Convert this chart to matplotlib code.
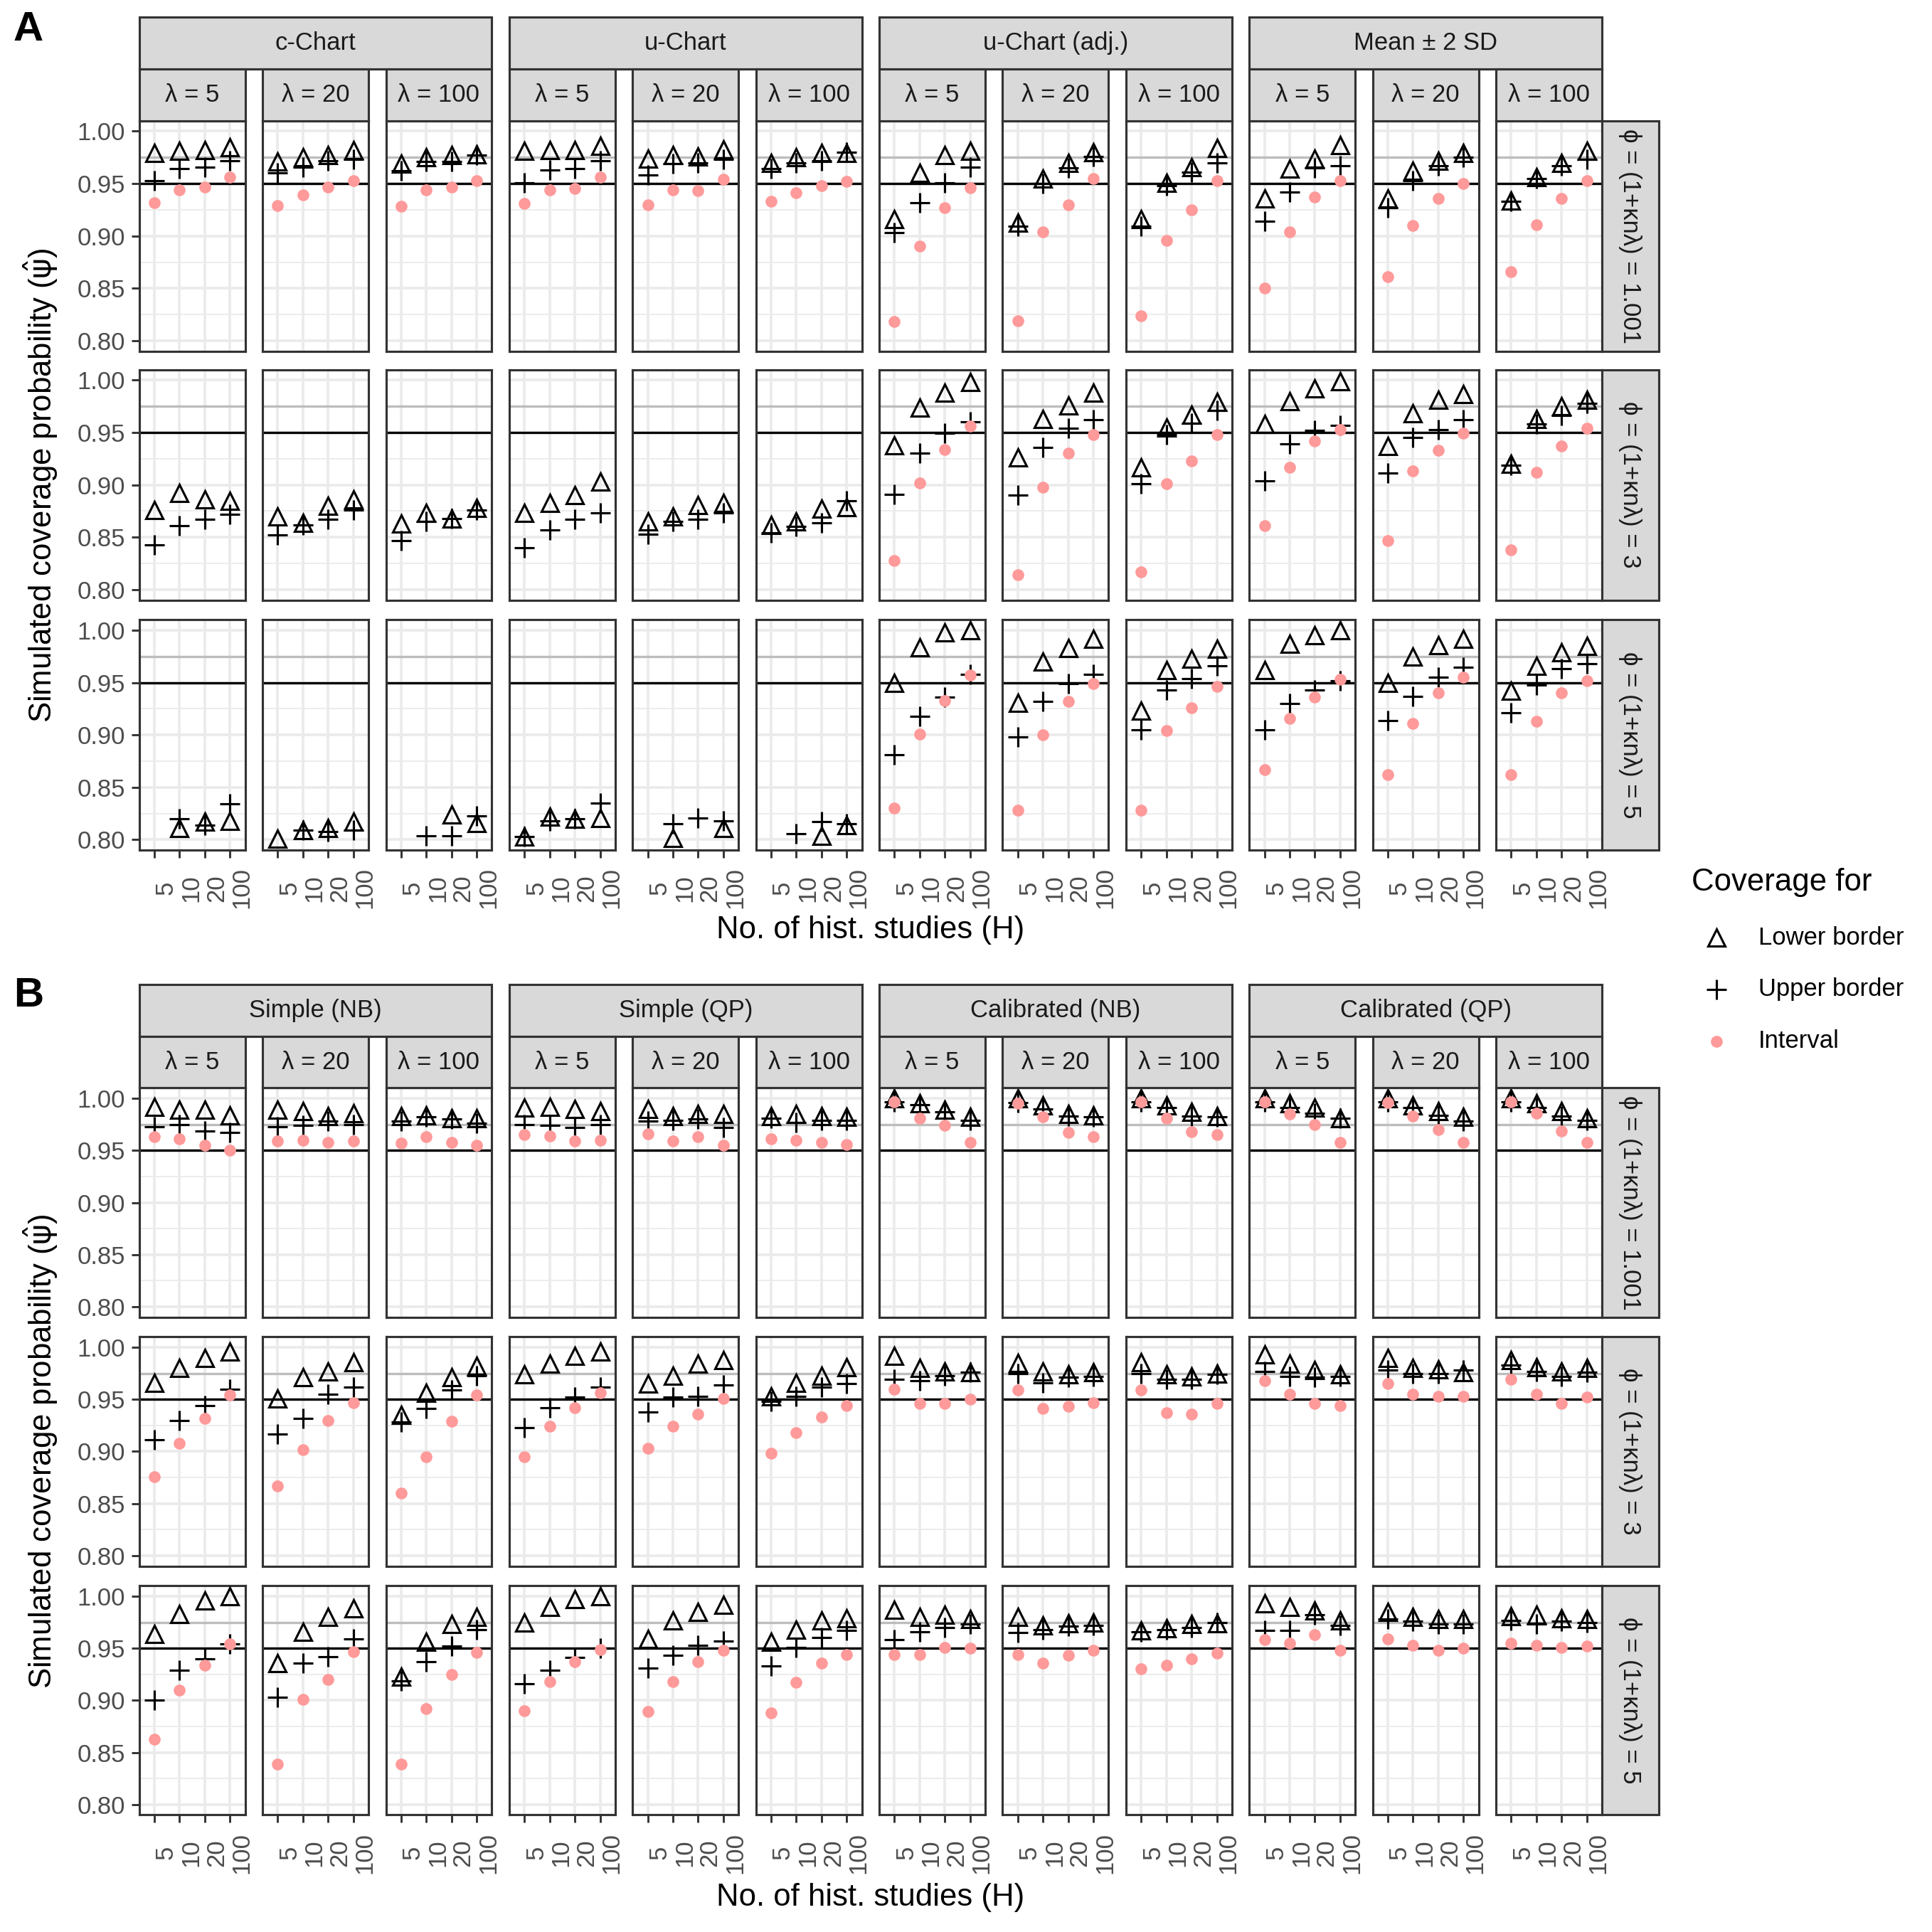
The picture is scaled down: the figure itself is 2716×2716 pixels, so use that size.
import numpy as np
import matplotlib as mpl
mpl.use('agg')
import matplotlib.pyplot as plt
from matplotlib.patches import Rectangle
from matplotlib.lines import Line2D

plt.rcParams['font.family'] = ['Liberation Sans', 'DejaVu Sans']
plt.rcParams['mathtext.fontset'] = 'dejavusans'

nan = np.nan

# facet labels
H_labels = ['5', '10', '20', '100']
lambda_labels = ['λ = 5', 'λ = 20', 'λ = 100']
phi_labels = ['ϕ = (1+κnλ) = 1.001', 'ϕ = (1+κnλ) = 3', 'ϕ = (1+κnλ) = 5']
methods_a = ['c-Chart', 'u-Chart', 'u-Chart (adj.)', 'Mean ± 2 SD']
methods_b = ['Simple (NB)', 'Simple (QP)', 'Calibrated (NB)', 'Calibrated (QP)']
series_labels = ['Lower border', 'Upper border', 'Interval']

# values: [phi][lambda] -> H = 5, 10, 20, 100  (nan = below 0.80, not shown)
# ---- panel A ----
cchart_lower = [[[0.979, 0.981, 0.982, 0.985], [0.971, 0.975, 0.977, 0.982], [0.969, 0.975, 0.977, 0.978]],
                [[0.876, 0.892, 0.886, 0.885], [0.870, 0.864, 0.880, 0.886], [0.863, 0.873, 0.868, 0.878]],
                [[nan, 0.811, 0.817, 0.818], [0.801, 0.809, 0.811, 0.817], [nan, nan, 0.824, 0.816]]]
cchart_upper = [[[0.953, 0.964, 0.966, 0.972], [0.960, 0.966, 0.972, 0.973], [0.962, 0.971, 0.971, 0.977]],
                [[0.843, 0.861, 0.867, 0.872], [0.852, 0.862, 0.867, 0.876], [0.847, 0.865, 0.868, 0.876]],
                [[nan, 0.820, 0.814, 0.834], [nan, 0.809, 0.808, 0.809], [nan, 0.804, 0.804, 0.823]]]
cchart_interval = [[[0.932, 0.944, 0.947, 0.956], [0.929, 0.939, 0.947, 0.953], [0.928, 0.944, 0.947, 0.953]],
                   [[nan] * 4, [nan] * 4, [nan] * 4],
                   [[nan] * 4, [nan] * 4, [nan] * 4]]

uchart_lower = [[[0.981, 0.982, 0.982, 0.986], [0.974, 0.977, 0.976, 0.983], [0.970, 0.975, 0.979, 0.979]],
                [[0.873, 0.883, 0.890, 0.903], [0.865, 0.870, 0.881, 0.883], [0.862, 0.865, 0.877, 0.879]],
                [[0.803, 0.822, 0.820, 0.821], [nan, 0.802, nan, 0.811], [nan, nan, 0.804, 0.814]]]
uchart_upper = [[[0.951, 0.963, 0.964, 0.972], [0.958, 0.969, 0.970, 0.973], [0.964, 0.970, 0.972, 0.980]],
                [[0.840, 0.857, 0.867, 0.873], [0.853, 0.865, 0.867, 0.873], [0.854, 0.860, 0.864, 0.885]],
                [[0.803, 0.818, 0.820, 0.835], [nan, 0.815, 0.821, 0.818], [nan, 0.806, 0.817, 0.815]]]
uchart_interval = [[[0.931, 0.944, 0.945, 0.956], [0.930, 0.944, 0.943, 0.954], [0.933, 0.941, 0.948, 0.952]],
                   [[nan] * 4, [nan] * 4, [nan] * 4],
                   [[nan] * 4, [nan] * 4, [nan] * 4]]

uadj_lower = [[[0.916, 0.960, 0.977, 0.981], [0.913, 0.955, 0.970, 0.980], [0.916, 0.951, 0.966, 0.984]],
              [[0.938, 0.974, 0.988, 0.998], [0.926, 0.963, 0.976, 0.988], [0.917, 0.955, 0.967, 0.979]],
              [[0.950, 0.984, 0.998, 1.000], [0.931, 0.970, 0.983, 0.992], [0.923, 0.962, 0.973, 0.982]]]
uadj_upper = [[[0.903, 0.932, 0.951, 0.966], [0.909, 0.950, 0.965, 0.976], [0.909, 0.948, 0.961, 0.970]],
              [[0.891, 0.930, 0.949, 0.960], [0.890, 0.936, 0.954, 0.962], [0.901, 0.948, 0.959, 0.971]],
              [[0.881, 0.918, 0.936, 0.958], [0.898, 0.932, 0.949, 0.958], [0.905, 0.943, 0.954, 0.966]]]
uadj_interval = [[[0.818, 0.890, 0.927, 0.946], [0.819, 0.904, 0.930, 0.955], [0.824, 0.896, 0.925, 0.953]],
                 [[0.828, 0.902, 0.934, 0.956], [0.814, 0.898, 0.930, 0.948], [0.817, 0.901, 0.923, 0.948]],
                 [[0.830, 0.901, 0.933, 0.957], [0.828, 0.900, 0.932, 0.949], [0.828, 0.904, 0.926, 0.946]]]

meansd_lower = [[[0.936, 0.964, 0.974, 0.987], [0.936, 0.962, 0.972, 0.979], [0.934, 0.956, 0.970, 0.981]],
                [[0.958, 0.980, 0.992, 0.999], [0.937, 0.968, 0.981, 0.987], [0.920, 0.963, 0.975, 0.981]],
                [[0.962, 0.987, 0.995, 1.000], [0.950, 0.975, 0.986, 0.992], [0.942, 0.966, 0.979, 0.985]]]
meansd_upper = [[[0.914, 0.942, 0.965, 0.967], [0.927, 0.953, 0.967, 0.975], [0.933, 0.955, 0.967, 0.973]],
                [[0.904, 0.939, 0.952, 0.957], [0.911, 0.945, 0.953, 0.962], [0.919, 0.958, 0.966, 0.978]],
                [[0.905, 0.930, 0.943, 0.952], [0.914, 0.937, 0.955, 0.965], [0.921, 0.948, 0.963, 0.968]]]
meansd_interval = [[[0.850, 0.904, 0.937, 0.953], [0.861, 0.910, 0.936, 0.950], [0.866, 0.911, 0.936, 0.953]],
                   [[0.861, 0.917, 0.942, 0.953], [0.847, 0.913, 0.933, 0.949], [0.838, 0.912, 0.937, 0.954]],
                   [[0.867, 0.916, 0.936, 0.953], [0.862, 0.911, 0.940, 0.955], [0.862, 0.913, 0.940, 0.952]]]

# ---- panel B ----
simplenb_lower = [[[0.992, 0.989, 0.989, 0.984], [0.989, 0.988, 0.983, 0.986], [0.983, 0.984, 0.981, 0.981]],
                  [[0.966, 0.980, 0.990, 0.996], [0.951, 0.971, 0.977, 0.986], [0.935, 0.956, 0.971, 0.982]],
                  [[0.964, 0.983, 0.996, 1.000], [0.936, 0.966, 0.980, 0.988], [0.923, 0.956, 0.973, 0.980]]]
simplenb_upper = [[[0.973, 0.975, 0.969, 0.967], [0.973, 0.974, 0.978, 0.975], [0.978, 0.982, 0.980, 0.976]],
                  [[0.911, 0.930, 0.944, 0.960], [0.917, 0.932, 0.955, 0.962], [0.928, 0.941, 0.959, 0.973]],
                  [[0.900, 0.929, 0.940, 0.954], [0.903, 0.936, 0.942, 0.959], [0.919, 0.937, 0.952, 0.968]]]
simplenb_interval = [[[0.963, 0.961, 0.955, 0.950], [0.959, 0.960, 0.958, 0.959], [0.957, 0.963, 0.958, 0.955]],
                     [[0.876, 0.908, 0.932, 0.954], [0.867, 0.902, 0.930, 0.947], [0.860, 0.895, 0.929, 0.954]],
                     [[0.863, 0.910, 0.934, 0.954], [0.839, 0.901, 0.920, 0.947], [0.839, 0.892, 0.925, 0.946]]]

simpleqp_lower = [[[0.991, 0.992, 0.990, 0.988], [0.990, 0.983, 0.985, 0.985], [0.983, 0.985, 0.983, 0.982]],
                  [[0.974, 0.984, 0.992, 0.996], [0.965, 0.973, 0.984, 0.988], [0.953, 0.966, 0.973, 0.981]],
                  [[0.975, 0.990, 0.997, 1.000], [0.959, 0.977, 0.985, 0.992], [0.956, 0.968, 0.977, 0.979]]]
simpleqp_upper = [[[0.975, 0.974, 0.972, 0.975], [0.978, 0.979, 0.980, 0.972], [0.981, 0.977, 0.979, 0.979]],
                  [[0.923, 0.942, 0.952, 0.962], [0.938, 0.952, 0.953, 0.964], [0.948, 0.953, 0.962, 0.965]],
                  [[0.916, 0.929, 0.941, 0.950], [0.931, 0.943, 0.953, 0.957], [0.933, 0.951, 0.960, 0.967]]]
simpleqp_interval = [[[0.965, 0.964, 0.959, 0.960], [0.966, 0.959, 0.963, 0.955], [0.961, 0.960, 0.958, 0.956]],
                     [[0.895, 0.924, 0.942, 0.956], [0.903, 0.924, 0.936, 0.951], [0.898, 0.918, 0.933, 0.944]],
                     [[0.890, 0.918, 0.937, 0.949], [0.889, 0.918, 0.937, 0.948], [0.888, 0.917, 0.936, 0.944]]]

calnb_lower = [[[1.000, 0.995, 0.989, 0.982], [1.000, 0.993, 0.985, 0.984], [1.000, 0.993, 0.987, 0.983]],
               [[0.992, 0.980, 0.977, 0.976], [0.985, 0.977, 0.974, 0.976], [0.986, 0.974, 0.972, 0.975]],
               [[0.987, 0.980, 0.982, 0.978], [0.980, 0.972, 0.974, 0.975], [0.967, 0.969, 0.973, 0.974]]]
calnb_upper = [[[0.997, 0.994, 0.987, 0.979], [0.996, 0.990, 0.983, 0.982], [0.997, 0.991, 0.983, 0.982]],
               [[0.969, 0.968, 0.973, 0.976], [0.975, 0.966, 0.971, 0.972], [0.975, 0.969, 0.969, 0.974]],
               [[0.958, 0.966, 0.970, 0.973], [0.965, 0.968, 0.971, 0.972], [0.966, 0.968, 0.970, 0.975]]]
calnb_interval = [[[0.997, 0.981, 0.974, 0.958], [0.995, 0.982, 0.967, 0.963], [0.997, 0.981, 0.968, 0.965]],
                  [[0.960, 0.946, 0.946, 0.950], [0.959, 0.941, 0.943, 0.947], [0.959, 0.937, 0.936, 0.946]],
                  [[0.944, 0.944, 0.951, 0.950], [0.944, 0.936, 0.943, 0.948], [0.930, 0.934, 0.940, 0.945]]]

calqp_lower = [[[1.000, 0.995, 0.991, 0.981], [1.000, 0.993, 0.988, 0.982], [1.000, 0.995, 0.988, 0.981]],
               [[0.993, 0.984, 0.978, 0.974], [0.990, 0.980, 0.979, 0.976], [0.988, 0.981, 0.977, 0.980]],
               [[0.993, 0.990, 0.986, 0.977], [0.985, 0.980, 0.978, 0.978], [0.981, 0.982, 0.979, 0.978]]]
calqp_upper = [[[0.997, 0.991, 0.986, 0.981], [0.997, 0.991, 0.984, 0.978], [0.997, 0.991, 0.983, 0.979]],
               [[0.977, 0.972, 0.971, 0.972], [0.978, 0.975, 0.975, 0.978], [0.983, 0.977, 0.972, 0.976]],
               [[0.967, 0.967, 0.982, 0.972], [0.978, 0.976, 0.973, 0.973], [0.977, 0.973, 0.976, 0.975]]]
calqp_interval = [[[0.997, 0.985, 0.975, 0.958], [0.996, 0.983, 0.970, 0.958], [0.997, 0.986, 0.969, 0.958]],
                  [[0.968, 0.955, 0.946, 0.944], [0.965, 0.955, 0.953, 0.953], [0.969, 0.955, 0.946, 0.952]],
                  [[0.958, 0.955, 0.963, 0.948], [0.959, 0.953, 0.948, 0.950], [0.955, 0.953, 0.951, 0.952]]]


# layout in reference pixels (1568 px grid), converted to figure fractions
S = 1568.0
def fx(px):
    return px / S
def fy(py):
    return 1 - py / S

COL_L, COL_W, COL_P = 113, 86, 100.1
STRIP_BG = '#d9d9d9'
EDGE = '#333333'
PINK = '#ff9a9a'

fig = plt.figure(figsize=(2716 / 300, 2716 / 300), dpi=300)
fig.patch.set_facecolor('white')


def strip(x0, y0, x1, y1, label, rot=0):
    fig.add_artist(Rectangle((fx(x0), fy(y1)), fx(x1) - fx(x0), fy(y0) - fy(y1),
                             transform=fig.transFigure, facecolor=STRIP_BG,
                             edgecolor=EDGE, linewidth=0.75))
    fig.text(fx((x0 + x1) / 2), fy((y0 + y1) / 2), label, rotation=rot,
             ha='center', va='center', fontsize=8.3, color='#1a1a1a')


def facet(ax, lower, upper, interval, first_col, last_row):
    x = np.arange(1, 5)
    ax.set_xlim(0.4, 4.6)
    ax.set_ylim(0.79, 1.01)
    ax.set_xticks(x)
    ax.set_yticks([0.80, 0.85, 0.90, 0.95, 1.00])
    ax.set_yticks([0.825, 0.875, 0.925, 0.975], minor=True)
    ax.grid(True, which='major', color='#ebebeb', linewidth=0.9)
    ax.grid(True, which='minor', axis='y', color='#ebebeb', linewidth=0.45)
    ax.set_axisbelow(True)
    ax.axhline(0.975, color='#bdbdbd', linewidth=0.8, zorder=1.5)
    ax.axhline(0.95, color='black', linewidth=0.8, zorder=1.5)
    ax.plot(x, lower, linestyle='none', marker='^', markersize=5.6,
            markerfacecolor='none', markeredgecolor='black', markeredgewidth=0.75, zorder=3)
    ax.plot(x, upper, linestyle='none', marker='+', markersize=6.5,
            color='black', markeredgewidth=0.75, zorder=3)
    ax.plot(x, interval, linestyle='none', marker='o', markersize=4,
            color=PINK, markeredgewidth=0, zorder=4)
    for s in ax.spines.values():
        s.set_color(EDGE)
        s.set_linewidth(0.75)
    ax.tick_params(which='minor', length=0)
    ax.tick_params(axis='y', which='major', length=2.75 if first_col else 0,
                   width=0.7, color=EDGE, labelsize=8.3, labelcolor='#4d4d4d',
                   labelleft=first_col, pad=2)
    ax.tick_params(axis='x', which='major', length=2.75 if last_row else 0,
                   width=0.7, color=EDGE, labelbottom=last_row, pad=10)
    if first_col:
        ax.set_yticklabels(['0.80', '0.85', '0.90', '0.95', '1.00'])
    if last_row:
        ax.set_xticklabels(H_labels, rotation=90, ha='left', va='center',
                           fontsize=8.3, color='#4d4d4d')


panels = [
    dict(tag='A', methods=methods_a, strip_top=14, row_tops=[98, 300, 503], row_h=187,
         xlab_y=755, tag_y=24,
         lower=[cchart_lower, uchart_lower, uadj_lower, meansd_lower],
         upper=[cchart_upper, uchart_upper, uadj_upper, meansd_upper],
         interval=[cchart_interval, uchart_interval, uadj_interval, meansd_interval]),
    dict(tag='B', methods=methods_b, strip_top=799, row_tops=[883, 1085, 1287], row_h=186,
         xlab_y=1540, tag_y=808,
         lower=[simplenb_lower, simpleqp_lower, calnb_lower, calqp_lower],
         upper=[simplenb_upper, simpleqp_upper, calnb_upper, calqp_upper],
         interval=[simplenb_interval, simpleqp_interval, calnb_interval, calqp_interval]),
]

for p in panels:
    top = p['strip_top']
    mid = (top + p['row_tops'][0]) / 2
    for m, method in enumerate(p['methods']):
        x0 = COL_L + 3 * m * COL_P
        x1 = COL_L + (3 * m + 2) * COL_P + COL_W
        strip(x0, top, x1, mid, method)
        for k in range(3):
            j = 3 * m + k
            cx0 = COL_L + j * COL_P
            strip(cx0, mid, cx0 + COL_W, p['row_tops'][0], lambda_labels[k])
            for r in range(3):
                ry = p['row_tops'][r]
                ax = fig.add_axes([fx(cx0), fy(ry + p['row_h']), COL_W / S, p['row_h'] / S])
                lo = np.array(p['lower'][m][r][k], dtype=float)
                up = np.array(p['upper'][m][r][k], dtype=float)
                iv = np.array(p['interval'][m][r][k], dtype=float)
                facet(ax, lo, up, iv, j == 0, r == 2)
    # right-hand phi strips
    right = COL_L + 11 * COL_P + COL_W
    for r in range(3):
        ry = p['row_tops'][r]
        strip(right, ry, right + 46, ry + p['row_h'], phi_labels[r], rot=270)

    row_mid = (p['row_tops'][0] + p['row_tops'][2] + p['row_h']) / 2
    fig.text(fx(33), fy(row_mid), 'Simulated coverage probability ($\\hat{\\mathrm{\\psi}}$)',
             rotation=90, ha='center', va='center', fontsize=10.5)
    fig.text(fx((COL_L + right) / 2), fy(p['xlab_y']), 'No. of hist. studies (H)',
             ha='center', va='center', fontsize=10.5)
    fig.text(fx(23), fy(p['tag_y']), p['tag'], ha='center', va='center',
             fontsize=14, fontweight='bold')

# legend
fig.text(fx(1373), fy(716), 'Coverage for', ha='left', va='center', fontsize=10.5)
legend_y = [761, 803, 845]
legend_style = [dict(marker='^', markersize=5.6, markerfacecolor='none',
                     markeredgecolor='black', markeredgewidth=0.75),
                dict(marker='+', markersize=6.5, color='black', markeredgewidth=0.75),
                dict(marker='o', markersize=4, color=PINK, markeredgewidth=0)]
for lab, ly, st in zip(series_labels, legend_y, legend_style):
    fig.add_artist(Line2D([fx(1393)], [fy(ly)], transform=fig.transFigure,
                          linestyle='none', **st))
    fig.text(fx(1427), fy(ly), lab, ha='left', va='center', fontsize=8.3)

fig.savefig('out.png', dpi=300, facecolor='white')
